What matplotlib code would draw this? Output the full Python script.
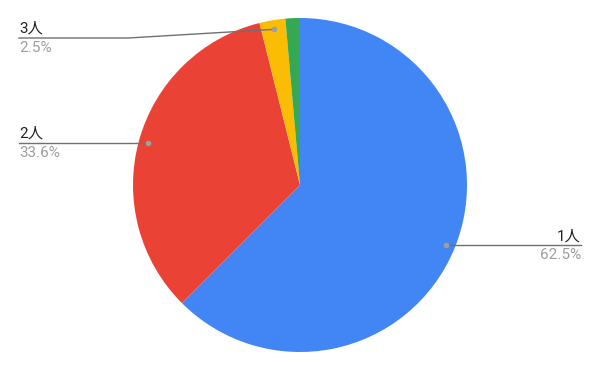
import numpy as np
import matplotlib.pyplot as plt

labels = ['1人', '2人', '3人', '4人']
values = [62.5, 33.6, 2.5, 1.4]
colors = ['#4285F4', '#EA4335', '#FBBC04', '#34A853']
shown = [True, True, True, False]

W, H = 600, 371
cx, cy, r = 300, H - 185, 167

fig = plt.figure(figsize=(6, 3.71), dpi=100)
ax = fig.add_axes([0, 0, 1, 1])
wedges, _ = ax.pie(values, colors=colors, startangle=90, counterclock=False,
                   center=(cx, cy), radius=r, frame=True,
                   wedgeprops=dict(linewidth=0))
ax.set_xlim(0, W)
ax.set_ylim(0, H)
ax.set_aspect('equal')
ax.axis('off')

fam = ['Roboto', 'Noto Sans CJK JP']
fs = 11
total = sum(values)
for w, lab, v, show in zip(wedges, labels, values, shown):
    if not show:
        continue
    ang = np.deg2rad((w.theta1 + w.theta2) / 2)
    px = cx + 0.945 * r * np.cos(ang)
    py = cy + 0.945 * r * np.sin(ang)
    pct = '%.1f%%' % (100 * v / total)
    if px > cx:
        ex, ha = 581, 'right'
        ly = py
        ax.plot([px, ex], [py, py], color='#707070', lw=1)
    else:
        ex, ha = 19, 'left'
        ly = py
        if py > H - 60:
            ly = H - 38
            ax.plot([px, 128, ex], [py, ly, ly], color='#707070', lw=1)
        else:
            ax.plot([px, ex], [py, py], color='#707070', lw=1)
    ax.text(ex, ly + 2, lab, ha=ha, va='bottom', fontsize=fs,
            color='#222222', family=fam)
    ax.text(ex, ly - 3, pct, ha=ha, va='top', fontsize=fs,
            color='#9e9e9e', family=fam)
    ax.plot(px, py, 'o', ms=3, color='#9e9e9e', zorder=5)

fig.savefig('out.png', dpi=100)
